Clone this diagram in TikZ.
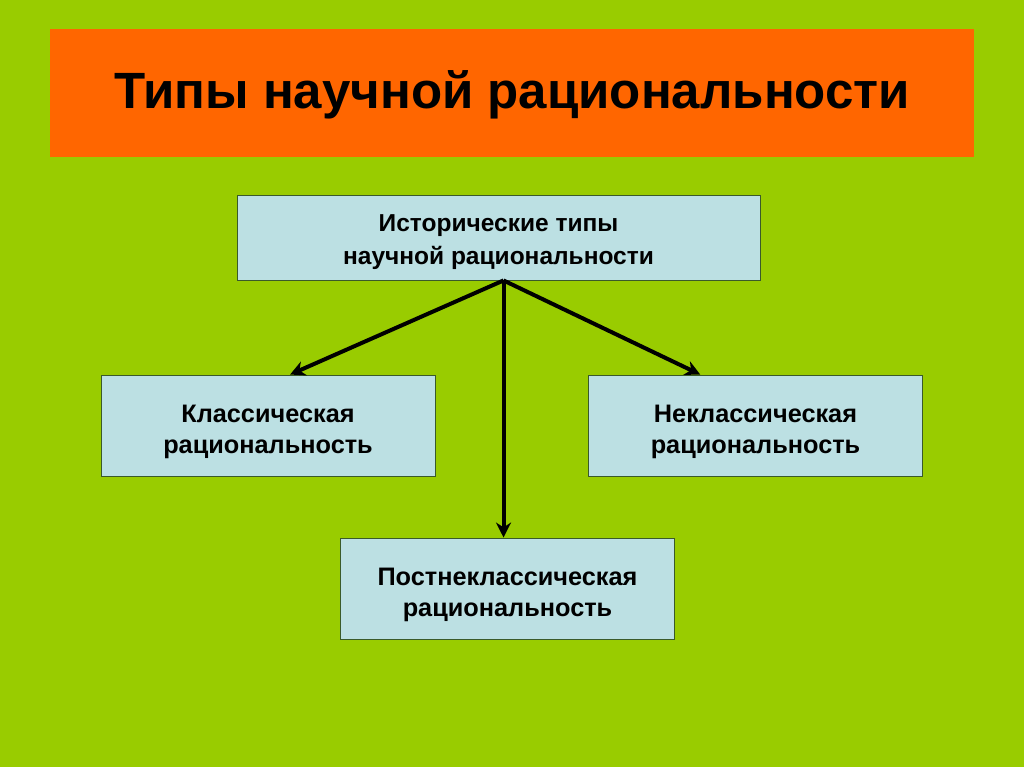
\documentclass[tikz,border=0pt]{standalone}
\usepackage{fontspec}
\setmainfont{Liberation Sans}
\usetikzlibrary{calc,arrows.meta}
\definecolor{bggreen}{HTML}{99CC00}
\definecolor{titleorange}{HTML}{FF6600}
\definecolor{boxfill}{HTML}{BCE0E3}
\definecolor{boxline}{HTML}{3A5A2A}
\begin{document}
\begin{tikzpicture}[x=1pt,y=-1pt,
  box/.style={draw=boxline,line width=0.9pt,fill=boxfill,minimum width=#1,minimum height=101pt,inner sep=0pt,align=center,
    font=\fontsize{25.3}{31}\selectfont\bfseries},
  box/.default={334pt},
  conn/.style={line width=4pt,-{Stealth[length=15pt,width=15pt]}}]
\fill[bggreen] (0,0) rectangle (1024,767);
\useasboundingbox (0,0) rectangle (1024,767);
\fill[titleorange] (50,29) rectangle (974,157);
\node (title) at (512,95) {\fontsize{51}{56}\selectfont\bfseries Типы научной рациональности};
\node[box=523pt,minimum height=85pt,font=\fontsize{24.5}{33}\selectfont\bfseries] (hist) at (498.5,237.5) {\rule{0pt}{25.5pt}Исторические типы\\научной рациональности};
\node[box] (cl) at (268,425.5) {\rule{0pt}{30pt}Классическая\\рациональность};
\node[box] (ncl) at (755.5,425.5) {\rule{0pt}{30pt}Неклассическая\\рациональность};
\node[box] (pncl) at (507.5,588.5) {\rule{0pt}{30pt}Постнеклассическая\\рациональность};
\coordinate (apex) at ($(hist.south west)!0.5096!(hist.south east)$);
\coordinate (clend) at ($(cl.north west)!0.566!(cl.north east)$);
\coordinate (nclend) at ($(ncl.north west)!0.335!(ncl.north east)$);
\draw[conn] (apex) -- (clend);
\draw[conn] (apex) -- (nclend);
\draw[conn] (apex) -- (apex |- pncl.north);
\end{tikzpicture}
\end{document}
